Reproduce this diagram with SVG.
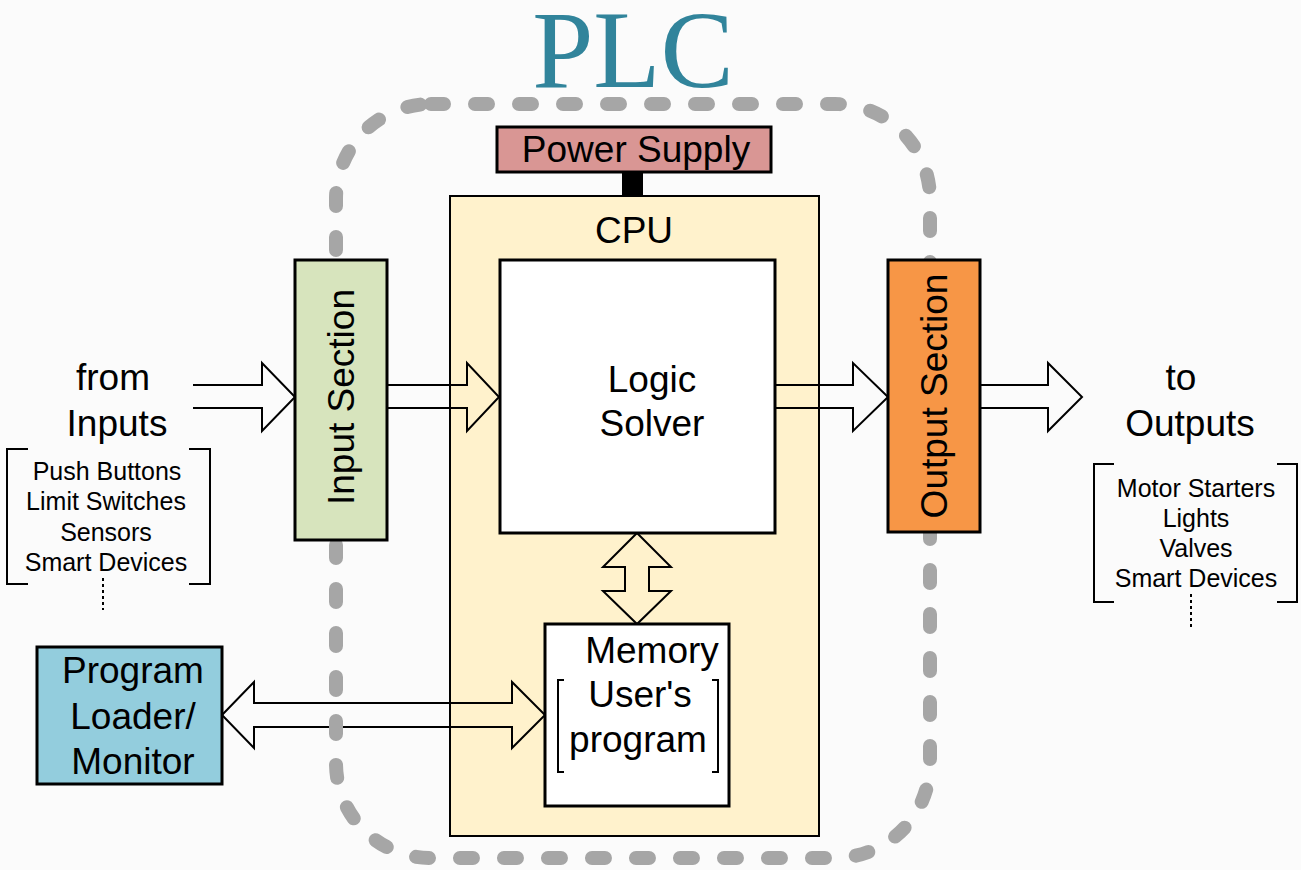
<svg xmlns="http://www.w3.org/2000/svg" width="1301" height="870" viewBox="0 0 1301 870">
  <style>
    text { font-family: "Liberation Sans", Arial, sans-serif; fill: #000; }
    .lbl { font-size: 37px; text-anchor: middle; }
    .lst { font-size: 25px; text-anchor: middle; }
    .box { stroke: #000; stroke-width: 3; }
    .arrow { fill: none; stroke: #000; stroke-width: 2; stroke-linejoin: miter; }
    .brk { fill: none; stroke: #000; stroke-width: 2; }
    .dots { fill: none; stroke: #000; stroke-width: 2; stroke-dasharray: 3 3; }
  </style>

  <rect width="1301" height="870" fill="#fbfbfb"/>

  <!-- Title -->
  <text x="633" y="87" style="font-family: 'Liberation Serif', 'Times New Roman', serif; font-size: 110px; fill: #31849b; text-anchor: middle;">PLC</text>

  <!-- CPU enclosure -->
  <g id="cpu">
    <rect x="450" y="196" width="369" height="640" fill="#fff2cc" stroke="#000" stroke-width="2"/>
    <text class="lbl" x="634" y="243">CPU</text>
  </g>

  <!-- Block arrows -->
  <g id="connectors">
    <path class="arrow" d="M193,385 H262 V363 L295,397 L262,431 V408 H193"/>
    <path class="arrow" d="M387,385 H467 V363 L499,397 L467,431 V408 H387"/>
    <path class="arrow" d="M775,385 H853 V363 L888,397 L853,431 V408 H775"/>
    <path class="arrow" d="M980,385 H1048 V363 L1082,397 L1048,431 V408 H980"/>
    <polygon class="arrow" points="637,533 671,567 649,567 649,591 671,591 637,624 603,591 625,591 625,567 603,567"/>
    <polygon class="arrow" points="222,715 254,682 254,703 512,703 512,682 545,715 512,748 512,727 254,727 254,748"/>
    <rect x="622" y="172" width="21" height="25" fill="#000"/>
  </g>

  <!-- PLC boundary -->
  <rect x="336" y="104" width="594" height="754" rx="95" ry="95" fill="none" stroke="#a6a6a6" stroke-width="14" stroke-linecap="round" stroke-dasharray="13 31"/>

  <g id="power-supply">
    <rect class="box" x="497" y="127" width="274" height="45" fill="#d99694"/>
    <text class="lbl" x="636" y="162">Power Supply</text>
  </g>

  <g id="logic-solver">
    <rect class="box" x="500" y="260" width="275" height="273" fill="#fff"/>
    <text class="lbl" x="652" y="392">Logic</text>
    <text class="lbl" x="652" y="436">Solver</text>
  </g>

  <g id="memory">
    <rect class="box" x="545" y="624" width="184" height="182" fill="#fff"/>
    <text class="lbl" x="652" y="663">Memory</text>
    <text class="lbl" x="640" y="707">User's</text>
    <text class="lbl" x="638" y="752">program</text>
    <path class="brk" stroke-width="1.5" d="M564,680 H558 V772 H564 M712,680 H718 V772 H712"/>
  </g>

  <g id="input-section">
    <rect class="box" x="295" y="260" width="92" height="280" fill="#d7e4bd"/>
    <text class="lbl" transform="translate(341,397) rotate(-90)" y="13">Input Section</text>
  </g>

  <g id="output-section">
    <rect class="box" x="888" y="260" width="92" height="272" fill="#f79646"/>
    <text class="lbl" transform="translate(934,396) rotate(-90)" y="13">Output Section</text>
  </g>

  <g id="program-loader">
    <rect class="box" x="37" y="647" width="185" height="137" fill="#93cddd"/>
    <text class="lbl" x="133" y="683">Program</text>
    <text class="lbl" x="133" y="729">Loader/</text>
    <text class="lbl" x="133" y="774">Monitor</text>
  </g>

  <g id="inputs">
    <text class="lbl" x="113" y="390">from</text>
    <text class="lbl" x="117" y="436">Inputs</text>
    <path class="brk" d="M28,449 H7 V584 H28 M189,449 H210 V584 H189"/>
    <text class="lst" x="107" y="480">Push Buttons</text>
    <text class="lst" x="106" y="510">Limit Switches</text>
    <text class="lst" x="106" y="541">Sensors</text>
    <text class="lst" x="106" y="571">Smart Devices</text>
    <line class="dots" x1="103" y1="578" x2="103" y2="610"/>
  </g>

  <g id="outputs">
    <text class="lbl" x="1181" y="390">to</text>
    <text class="lbl" x="1190" y="436">Outputs</text>
    <path class="brk" d="M1114,464 H1094 V602 H1114 M1277,464 H1297 V602 H1277"/>
    <text class="lst" x="1196" y="497">Motor Starters</text>
    <text class="lst" x="1196" y="527">Lights</text>
    <text class="lst" x="1196" y="557">Valves</text>
    <text class="lst" x="1196" y="587">Smart Devices</text>
    <line class="dots" x1="1191" y1="594" x2="1191" y2="627"/>
  </g>
</svg>
